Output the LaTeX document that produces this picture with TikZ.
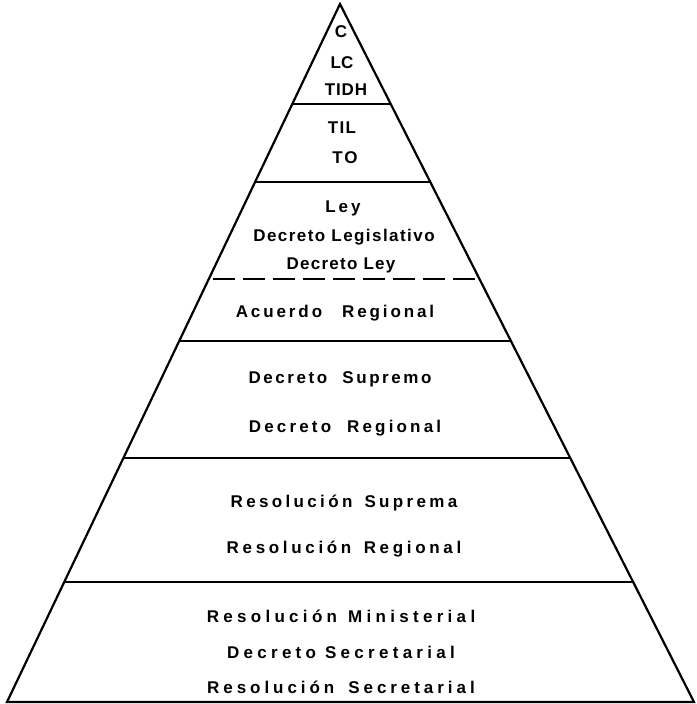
\documentclass[tikz,border=0pt]{standalone}
\usepackage{fontspec}
\setmainfont{Liberation Sans}
\usetikzlibrary{calc}

\tikzset{
    lvl/.style={inner sep=0pt, anchor=base,
        font=\fontsize{17}{19}\selectfont\bfseries\addfontfeatures{LetterSpace=#1}},
    lvl/.default=10,
    edge/.style={line width=2.2pt, line join=miter},
    cut/.style={line width=1.6pt},
}

\begin{document}
\begin{tikzpicture}[x=1pt, y=-1pt]
    \useasboundingbox (0,0) rectangle (696,704);

    % outline of the pyramid
    \coordinate (apex) at (340,4);
    \coordinate (bl) at (7,702);
    \coordinate (br) at (694,702);
    \draw[edge] (bl) -- (apex) -- (br) -- cycle;

    % level boundaries (fraction up from the base)
    \foreach \t in {0.8567, 0.745, 0.517, 0.3496, 0.172}
        \draw[cut] ($(bl)!\t!(apex)$) -- ($(br)!\t!(apex)$);
    \draw[cut, dash pattern=on 22pt off 8pt, dash phase=-4pt]
        ($(bl)!0.606!(apex)$) -- ($(br)!0.606!(apex)$);

    % texts (placed by their baselines)
    \node[lvl=0]  (c)    at (341,37)  {C};
    \node[lvl=0]  (lc)   at (342,68)  {LC};
    \node[lvl=5]  (tidh) at (346,95)  {TIDH};

    \node[lvl=8]  (til)  at (342,133) {TIL};
    \node[lvl=12] (to)   at (345,163) {TO};

    \node[lvl=18] (ley)  at (343,212) {Ley};
    \node[lvl=8.5](dleg) at (344,241) {Decreto Legislativo};
    \node[lvl=7.5](dley) at (341,269) {Decreto Ley};

    \node[lvl=17] (areg) at (335,317) {Acuerdo\hspace{20pt}Regional};

    \node[lvl=15] (dsup) at (340,383) {Decreto\hspace{8pt} Supremo};
    \node[lvl=18.7] (dreg) at (345,432) {Decreto\hspace{8pt} Regional};

    \node[lvl=19.7] (rsup) at (344,507) {Resolución\hspace{4pt} Suprema};
    \node[lvl=21.6] (rreg) at (344,553) {Resolución\hspace{4pt} Regional};

    \node[lvl=25.3] (rmin) at (341,622) {Resolución\hspace{2pt} Ministerial};
    \node[lvl=25.2] (dsec) at (341,658) {Decreto Secretarial};
    \node[lvl=23.2] (rsec) at (341,693) {Resolución\hspace{14pt}Secretarial};
\end{tikzpicture}
\end{document}
